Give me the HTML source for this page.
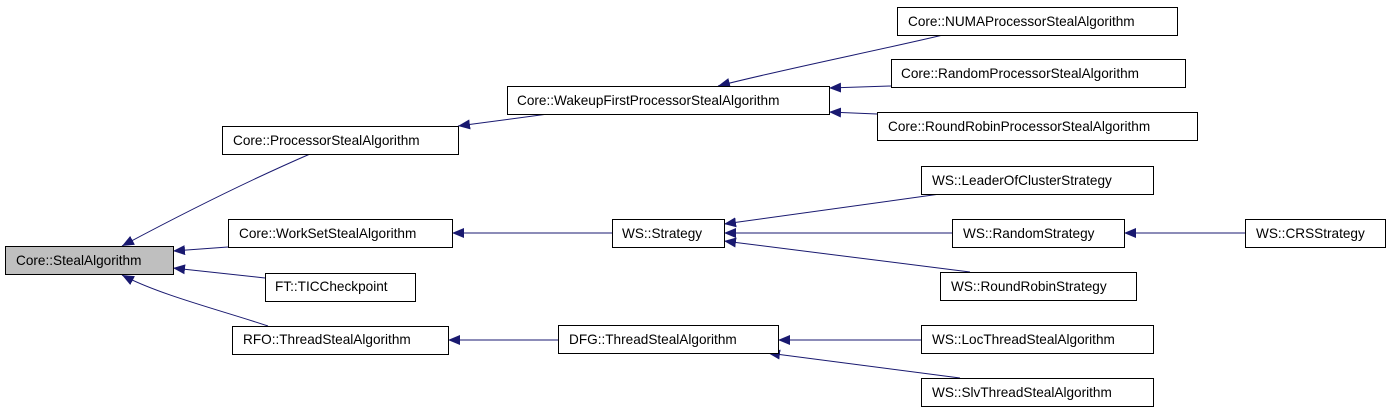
<!DOCTYPE html>
<html><head><meta charset="utf-8"><style>
html,body{margin:0;padding:0;background:#fff;width:1392px;height:413px;overflow:hidden}
svg text{font-family:"Liberation Sans",sans-serif;font-size:13.6px;fill:#000}
</style></head><body>
<svg width="1392" height="413" xmlns="http://www.w3.org/2000/svg">
<defs>
<marker id="a" viewBox="0 0 12 10" refX="12" refY="5" markerWidth="12" markerHeight="10" markerUnits="userSpaceOnUse" orient="auto">
<path d="M12,5 L0,0 L0,10 Z" fill="#191970"/>
</marker>
</defs>
<g stroke="#191970" stroke-width="1" fill="none" marker-end="url(#a)">
<path d="M310,154 C250,180 180,215 122,246"/>
<path d="M228,247 L173,251"/>
<path d="M265,278 L173,268"/>
<path d="M268,326 C220,310 160,295 122,275"/>
<path d="M548,114 L458,126"/>
<path d="M943,35 C880,50 780,70 718,86"/>
<path d="M891,86 L829,88"/>
<path d="M877,114 L829,112"/>
<path d="M612,233 L452,233"/>
<path d="M940,194 L724,224"/>
<path d="M952,233 L724,233"/>
<path d="M970,272 L724,241"/>
<path d="M1245,233 L1124,233"/>
<path d="M558,340 L448,340"/>
<path d="M921,340 L778,340"/>
<path d="M960,378 L768,353"/>
</g>
<g stroke="#000" stroke-width="1">
<rect x="5.5" y="246.5" width="168" height="28" fill="#bfbfbf"/>
<rect x="222.5" y="126.5" width="236" height="28" fill="#fff"/>
<rect x="228.5" y="219.5" width="224" height="28" fill="#fff"/>
<rect x="265.5" y="273.5" width="150" height="28" fill="#fff"/>
<rect x="232.5" y="326.5" width="216" height="28" fill="#fff"/>
<rect x="507.5" y="86.5" width="322" height="28" fill="#fff"/>
<rect x="897.5" y="7.5" width="280" height="28" fill="#fff"/>
<rect x="891.5" y="59.5" width="294" height="28" fill="#fff"/>
<rect x="877.5" y="112.5" width="320" height="28" fill="#fff"/>
<rect x="612.5" y="219.5" width="112" height="28" fill="#fff"/>
<rect x="921.5" y="166.5" width="232" height="28" fill="#fff"/>
<rect x="952.5" y="219.5" width="172" height="28" fill="#fff"/>
<rect x="940.5" y="272.5" width="196" height="28" fill="#fff"/>
<rect x="1245.5" y="219.5" width="140" height="28" fill="#fff"/>
<rect x="558.5" y="325.5" width="220" height="28" fill="#fff"/>
<rect x="921.5" y="325.5" width="232" height="28" fill="#fff"/>
<rect x="921.5" y="378.5" width="232" height="28" fill="#fff"/>
</g>
<text x="16" y="265">Core::StealAlgorithm</text>
<text x="233" y="145">Core::ProcessorStealAlgorithm</text>
<text x="239" y="238">Core::WorkSetStealAlgorithm</text>
<text x="275" y="291">FT::TICCheckpoint</text>
<text x="243" y="344">RFO::ThreadStealAlgorithm</text>
<text x="517" y="105">Core::WakeupFirstProcessorStealAlgorithm</text>
<text x="908" y="26">Core::NUMAProcessorStealAlgorithm</text>
<text x="901" y="78">Core::RandomProcessorStealAlgorithm</text>
<text x="888" y="131">Core::RoundRobinProcessorStealAlgorithm</text>
<text x="622" y="238">WS::Strategy</text>
<text x="932" y="185">WS::LeaderOfClusterStrategy</text>
<text x="963" y="238">WS::RandomStrategy</text>
<text x="951" y="291">WS::RoundRobinStrategy</text>
<text x="1256" y="238">WS::CRSStrategy</text>
<text x="569" y="344">DFG::ThreadStealAlgorithm</text>
<text x="932" y="344">WS::LocThreadStealAlgorithm</text>
<text x="932" y="397">WS::SlvThreadStealAlgorithm</text>
</svg>
</body></html>
